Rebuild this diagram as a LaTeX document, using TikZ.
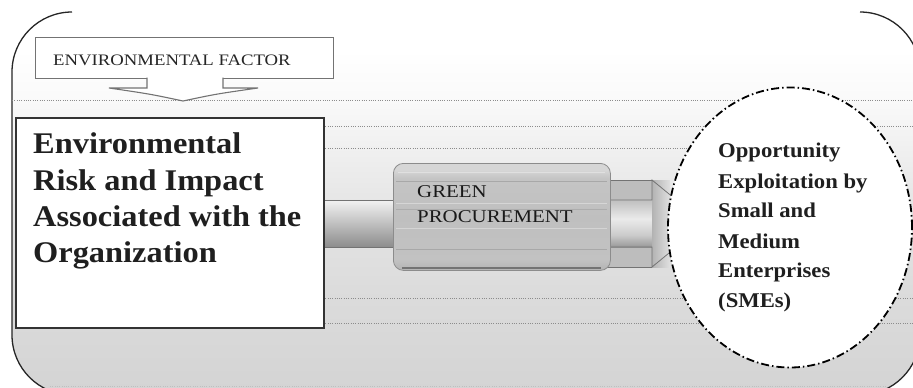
\documentclass[tikz,border=0pt]{standalone}
\usepackage{fontspec}
\setmainfont{Liberation Serif}
\usepackage{graphicx}
\usetikzlibrary{shapes.geometric}
\newcommand{\xstretch}[2]{\scalebox{#1}[1]{#2}}
\pgfdeclareverticalshading{bgshade}{100bp}{color(0bp)=(black!17); color(25bp)=(black!17); color(38bp)=(black!14); color(50bp)=(black!10); color(57bp)=(black!6); color(64bp)=(black!2); color(70bp)=(white); color(100bp)=(white)}
\pgfdeclareverticalshading{greenshade}{100bp}{color(0bp)=(black!30); color(25bp)=(black!30); color(30bp)=(black!24); color(50bp)=(black!25); color(68bp)=(black!23); color(72bp)=(black!16); color(100bp)=(black!16)}
\pgfdeclareverticalshading{tubeshade}{100bp}{color(0bp)=(black!40); color(25bp)=(black!40); color(38bp)=(black!20); color(55bp)=(black!8); color(75bp)=(black!25); color(100bp)=(black!25)}
\begin{document}
\begin{tikzpicture}[x=1pt,y=-1pt,
  outl/.style={line width=1.3pt, draw=black!85},
  dotline/.style={draw=black!45, line width=0.7pt, dash pattern=on 1pt off 1.3pt},
  bigtxt/.style={anchor=base west, inner sep=0pt, text=black!88, font={\fontsize{30}{36}\selectfont\bfseries}},
  circtxt/.style={anchor=base west, inner sep=0pt, text=black!88, font={\fontsize{21}{30}\selectfont\bfseries}},
  captxt/.style={anchor=base west, inner sep=0pt, text=black!90, font={\fontsize{18}{22}\selectfont}},
  factxt/.style={anchor=base west, inner sep=0pt, text=black!85, font={\fontsize{16}{20}\selectfont}},
  stripe/.style={line width=0.8pt},
  arrline/.style={draw=black!55, line width=0.8pt}
]
\useasboundingbox (0,0) rectangle (913,388);
\fill[white] (0,0) rectangle (913,388);
% background plaque
\shade[shading=bgshade, rounded corners=60pt] (12,12) rectangle (920,395);
\draw[outl] (72,12) .. controls (38.9,12) and (12,38.9) .. (12,72) -- (12,335)
  .. controls (12,368.1) and (38.9,395) .. (72,395);
\draw[outl] (860,12) .. controls (893.1,12) and (920,38.9) .. (920,72);
\draw[outl] (860,395) .. controls (893.1,395) and (920,368.1) .. (920,335);
% dotted guide lines
\draw[dotline] (12,100) -- (913,100);
\draw[dotline] (323,126) -- (913,126);
\draw[dotline] (323,148) -- (700,148);
\draw[dotline] (323,298) -- (913,298);
\draw[dotline] (323,323) -- (913,323);
\draw[dotline, draw=black!25] (50,386) -- (885,386);
% big arrow band behind green box
\shade[top color=black!5, bottom color=black!45] (323,200) rectangle (400,247);
\draw[arrline] (323,200) -- (400,200) (323,247) -- (400,247);
% arrow head part right of green box
\fill[black!26] (605,180) rectangle (670,267);
\shade[shading=tubeshade] (605,200) rectangle (652,247);
\shade[left color=black!30, right color=black!12] (652,180) rectangle (670,267);
\draw[arrline] (605,200) -- (652,200) -- (652,180) -- (705,223.5) -- (652,267) -- (652,247) -- (605,247);
\draw[arrline] (605,180) -- (652,180);
\draw[arrline] (605,267) -- (652,267);
% green procurement box
\node[draw=black!45, line width=0.8pt, shading=greenshade, rounded corners=10pt,
  minimum width=217pt, minimum height=107pt, anchor=north west, inner sep=0pt] (green) at (393,163) {};
\draw[stripe, black!12] (398,172) -- (605,172);
\draw[stripe, black!34] (396,181) -- (607,181);
\draw[stripe, black!16] (396,203) -- (607,203);
\draw[stripe, black!32] (396,209) -- (607,209);
\draw[stripe, black!17] (396,228) -- (607,228);
\draw[stripe, black!34] (396,249) -- (607,249);
\draw[line width=1.5pt, black!55] (402,268) -- (601,268);
\node[captxt] (g1) at (417,197) {\xstretch{1.16}{GREEN}};
\node[captxt] (g2) at (417,222) {\xstretch{1.16}{PROCUREMENT}};
% environmental factor box and arrow
\node[draw=black!55, line width=1pt, fill=white, minimum width=298pt, minimum height=41pt,
  anchor=north west, inner sep=0pt] (factor) at (35,37) {};
\node[factxt] (ftxt) at (53,65) {\xstretch{1.17}{ENVIRONMENTAL FACTOR}};
\fill[white] (147,77) -- (147,88) -- (109,88) .. controls (150,94) .. (183,101)
  .. controls (216,94) .. (258,88) -- (223,88) -- (223,77) -- cycle;
\draw[black!55, line width=1.1pt] (147,77.5) -- (147,88) -- (109,88) .. controls (150,94) .. (183,101)
  .. controls (216,94) .. (258,88) -- (223,88) -- (223,77.5);
% main box
\node[draw=black!80, line width=1.6pt, fill=white, minimum width=308pt, minimum height=210pt,
  anchor=north west, inner sep=0pt] (mainbox) at (15,117) {};
\node[bigtxt] (m1) at (33,153) {\xstretch{1.08}{Environmental}};
\node[bigtxt] (m2) at (33,190) {\xstretch{1.08}{Risk and Impact}};
\node[bigtxt] (m3) at (33,226) {\xstretch{1.08}{Associated with the}};
\node[bigtxt] (m4) at (33,262) {\xstretch{1.08}{Organization}};
% opportunity ellipse
\node[ellipse, draw=black, fill=white, line width=1.8pt,
  dash pattern=on 8pt off 3pt on 1.5pt off 3pt,
  minimum width=244pt, minimum height=280pt, inner sep=0pt] (opp) at (790,227.5) {};
\node[circtxt] (c1) at (718,157) {\xstretch{1.08}{Opportunity}};
\node[circtxt] (c2) at (718,188) {\xstretch{1.08}{Exploitation by}};
\node[circtxt] (c3) at (718,217) {\xstretch{1.08}{Small and}};
\node[circtxt] (c4) at (718,248) {\xstretch{1.08}{Medium}};
\node[circtxt] (c5) at (718,277) {\xstretch{1.08}{Enterprises}};
\node[circtxt] (c6) at (718,307) {\xstretch{1.08}{(SMEs)}};
\end{tikzpicture}
\end{document}
